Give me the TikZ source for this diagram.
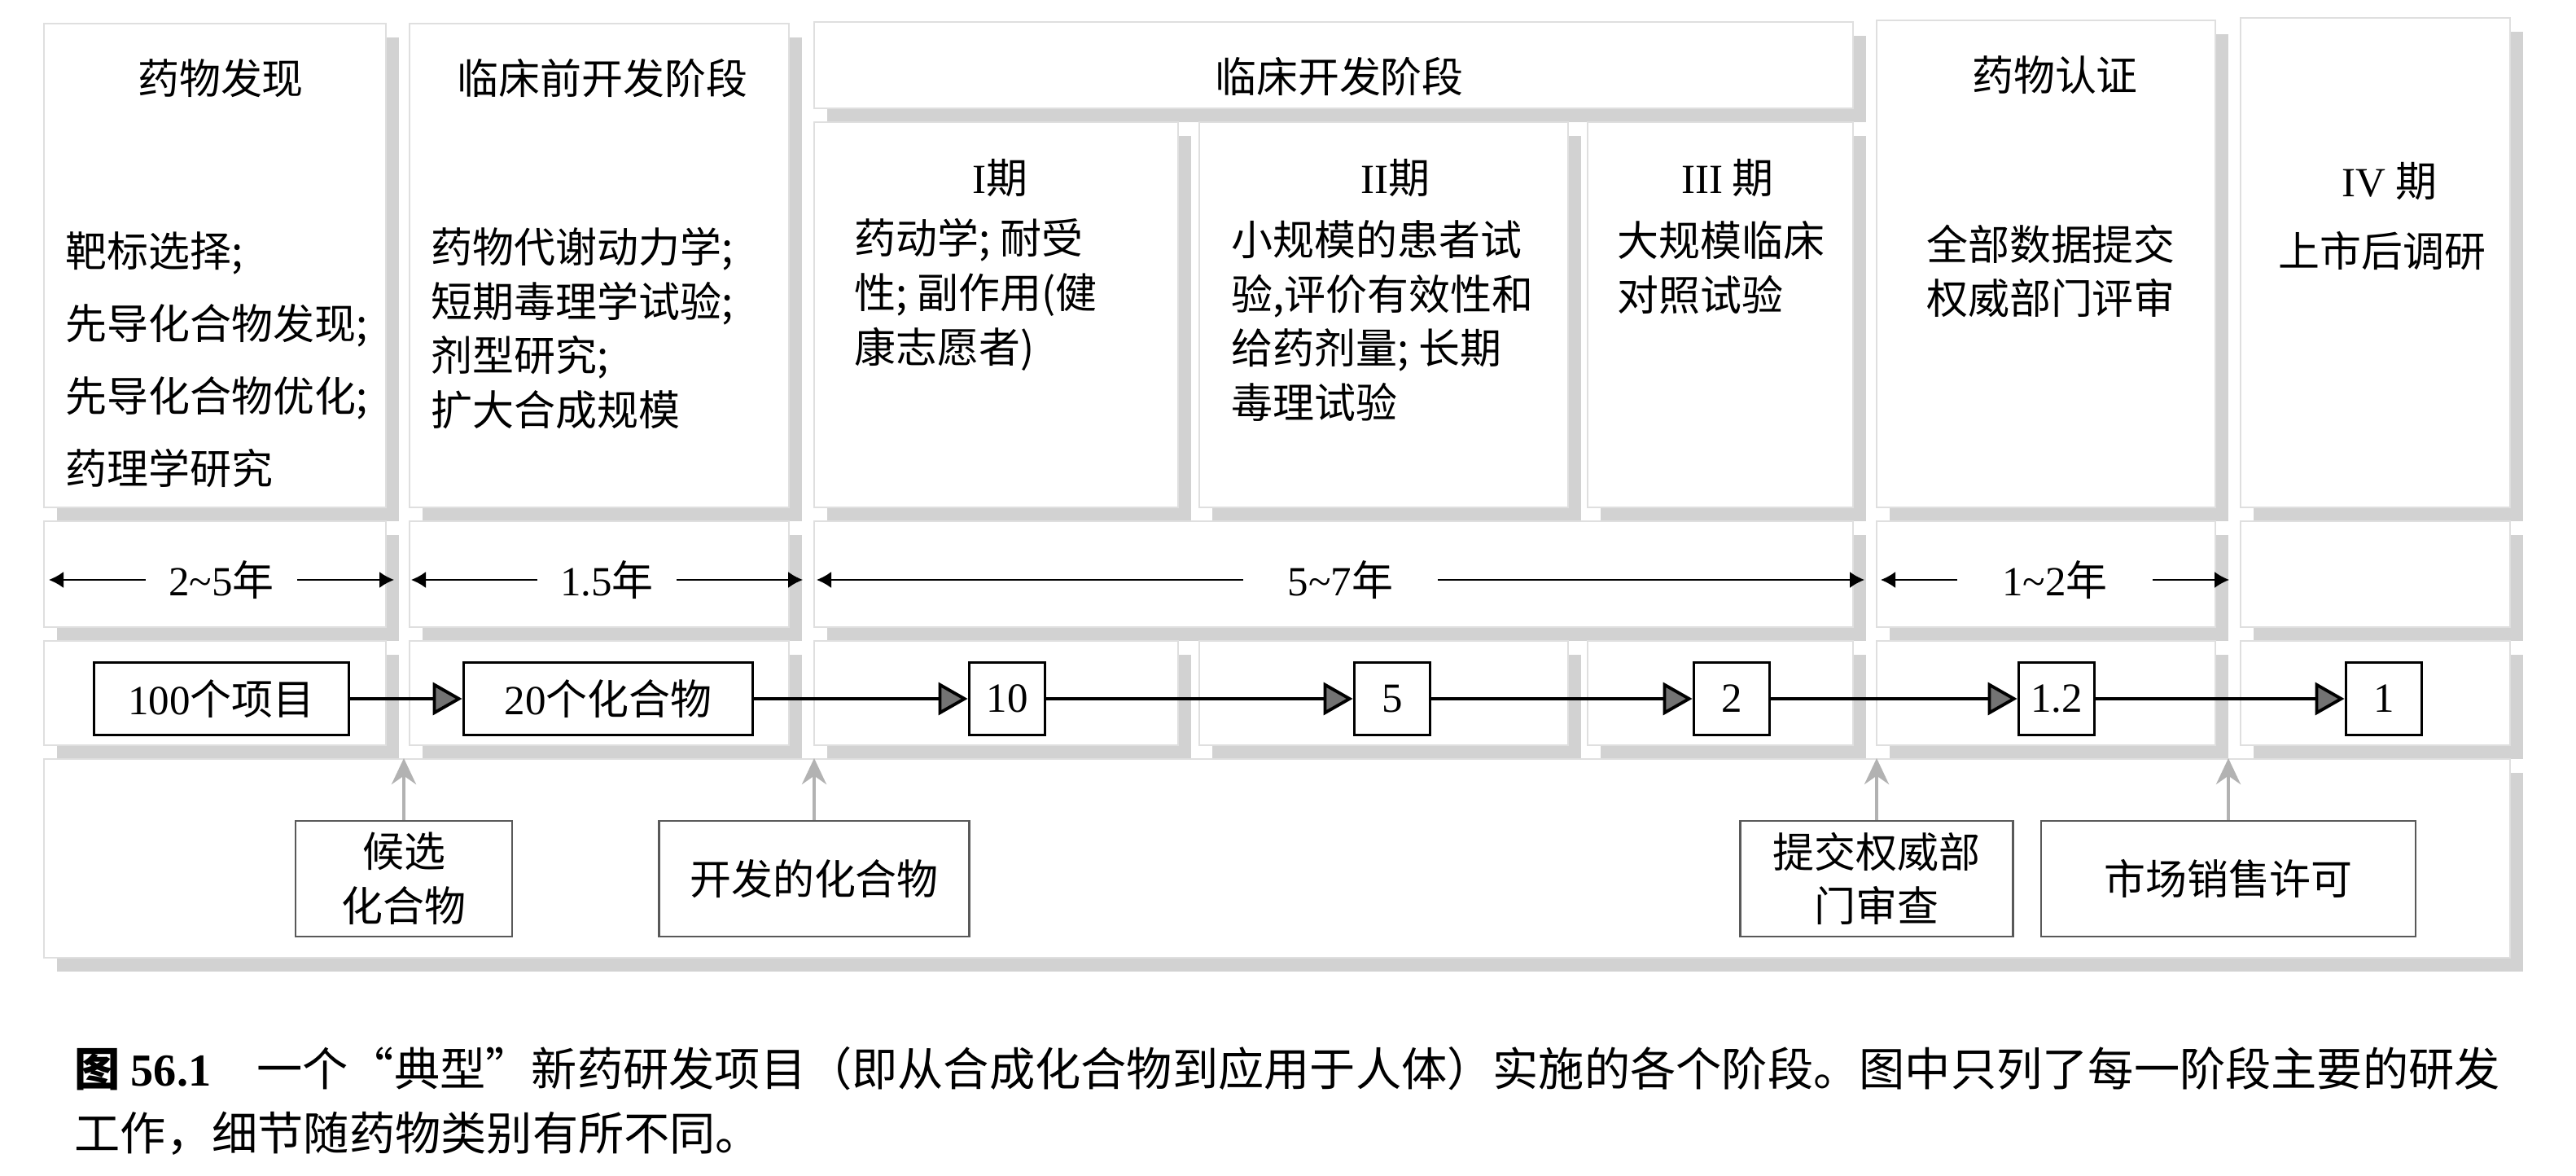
\documentclass[tikz,border=0pt]{standalone}
\usepackage{fontspec}
\setmainfont{Liberation Serif}
\newfontfamily\cjk{Noto Sans CJK SC}
\usepackage{tikz}
\usetikzlibrary{arrows.meta, shadows, positioning}
\newcommand{\figfont}{\fontsize{14.5}{19}\selectfont}
\newcommand{\zh}[1]{{\cjk #1}}
\newcommand{\lat}[1]{{\rmfamily #1}}
\tikzstyle{tile} = [draw=gray!25, line width=0.4pt, fill=white, general shadow={fill=gray!35, shadow xshift=0.16cm, shadow yshift=-0.17cm}]
\tikzstyle{head} = [font=\figfont\cjk, inner sep=0pt]
\tikzstyle{body} = [font=\figfont\cjk, align=left, anchor=west, inner sep=0pt]
\tikzstyle{numbox} = [rectangle, draw=black, line width=1.1pt, minimum width=0.93cm, minimum height=0.89cm, font=\figfont, fill=white]
\tikzstyle{milestone} = [rectangle, draw=black!65, line width=0.8pt, minimum height=1.42cm, align=center, font=\figfont\cjk, fill=white]
\tikzstyle{span} = [line width=0.5pt, {Latex[length=0.18cm,width=0.2cm]}-{Latex[length=0.18cm,width=0.2cm]}]
\tikzstyle{spanlabel} = [fill=white, inner xsep=0.28cm, font=\figfont]
\tikzstyle{flow} = [line width=1.1pt, -{Triangle[length=0.36cm,width=0.4cm,fill=black!55]}]
\tikzstyle{rise} = [gray!60, line width=1.2pt, -{Stealth[length=0.32cm,width=0.3cm]}]

\begin{document}
\begin{tikzpicture}
            \useasboundingbox (0,0) rectangle (31.64,-14.44);

            % Tiles, top row
            \draw [tile] (0.54,-0.29) rectangle (4.74,-6.23);
            \draw [tile] (5.03,-0.29) rectangle (9.69,-6.23);
            \draw [tile] (10.00,-0.27) rectangle (22.76,-1.33);
            \draw [tile] (10.00,-1.50) rectangle (14.47,-6.23);
            \draw [tile] (14.73,-1.50) rectangle (19.26,-6.23);
            \draw [tile] (19.50,-1.50) rectangle (22.76,-6.23);
            \draw [tile] (23.05,-0.25) rectangle (27.21,-6.23);
            \draw [tile] (27.52,-0.22) rectangle (30.83,-6.23);
            % Tiles, years row
            \draw [tile] (0.54,-6.40) rectangle (4.74,-7.70);
            \draw [tile] (5.03,-6.40) rectangle (9.69,-7.70);
            \draw [tile] (10.00,-6.40) rectangle (22.76,-7.70);
            \draw [tile] (23.05,-6.40) rectangle (27.21,-7.70);
            \draw [tile] (27.52,-6.40) rectangle (30.83,-7.70);
            % Tiles, counts row
            \draw [tile] (0.54,-7.87) rectangle (4.74,-9.15);
            \draw [tile] (5.03,-7.87) rectangle (9.69,-9.15);
            \draw [tile] (10.00,-7.87) rectangle (14.47,-9.15);
            \draw [tile] (14.73,-7.87) rectangle (19.26,-9.15);
            \draw [tile] (19.50,-7.87) rectangle (22.76,-9.15);
            \draw [tile] (23.05,-7.87) rectangle (27.21,-9.15);
            \draw [tile] (27.52,-7.87) rectangle (30.83,-9.15);
            % Tile, milestones row
            \draw [tile] (0.54,-9.32) rectangle (30.83,-11.76);

            % Stage headings and work
            \node (discover) [head] at (2.71,-0.96) {药物发现};
            \node (preclin) [head] at (7.40,-0.96) {临床前开发阶段};
            \node (clinic) [head] at (16.45,-0.94) {临床开发阶段};
            \node (approve) [head] at (25.24,-0.92) {药物认证};
            \node (p1) [head] at (12.28,-2.19) {\lat{I}期};
            \node (p2) [head] at (17.14,-2.19) {\lat{II}期};
            \node (p3) [head] at (21.22,-2.19) {\lat{III} 期};
            \node (p4) [head] at (29.35,-2.23) {\lat{IV} 期};
            \node (discoverwork) [body, font=\fontsize{14.5}{25.3}\selectfont\cjk] at (0.80,-4.42) {靶标选择;\\先导化合物发现;\\先导化合物优化;\\药理学研究};
            \node (preclinwork) [body] at (5.29,-4.03) {药物代谢动力学;\\短期毒理学试验;\\剂型研究;\\扩大合成规模};
            \node (p1work) [body] at (10.49,-3.62) {药动学; 耐受\\性; 副作用(健\\康志愿者)};
            \node (p2work) [body] at (15.12,-3.94) {小规模的患者试\\验,评价有效性和\\给药剂量; 长期\\毒理试验};
            \node (p3work) [body] at (19.86,-3.29) {大规模临床\\对照试验};
            \node (approvework) [head, align=center] at (25.19,-3.33) {全部数据提交\\权威部门评审};
            \node (p4work) [head] at (29.26,-3.08) {上市后调研};

            % Durations
            \coordinate (s1a) at (0.60,-7.12);
            \coordinate (s1b) at (4.84,-7.12);
            \coordinate (s2a) at (5.05,-7.12);
            \coordinate (s2b) at (9.86,-7.12);
            \coordinate (s3a) at (10.03,-7.12);
            \coordinate (s3b) at (22.90,-7.12);
            \coordinate (s4a) at (23.10,-7.12);
            \coordinate (s4b) at (27.38,-7.12);
            \draw [span] (s1a) -- node[spanlabel] {2\textasciitilde 5\zh{年}} (s1b);
            \draw [span] (s2a) -- node[spanlabel] {1.5\zh{年}} (s2b);
            \draw [span] (s3a) -- node[spanlabel, inner xsep=0.55cm] {5\textasciitilde 7\zh{年}} (s3b);
            \draw [span] (s4a) -- node[spanlabel, inner xsep=0.55cm] {1\textasciitilde 2\zh{年}} (s4b);

            % Counts
            \node (n100) [numbox, minimum width=3.13cm] at (2.72,-8.58) {100\zh{个项目}};
            \node (n20) [numbox, minimum width=3.55cm, right of=n100, node distance=4.75cm] {20\zh{个化合物}};
            \node (n10) [numbox, right of=n20, node distance=4.90cm] {10};
            \node (n5) [numbox, right of=n10, node distance=4.73cm] {5};
            \node (n2) [numbox, right of=n5, node distance=4.17cm] {2};
            \node (n12) [numbox, right of=n2, node distance=3.99cm] {1.2};
            \node (n1) [numbox, right of=n12, node distance=4.02cm] {1};

            % Milestones
            \node (cand) [milestone, minimum width=2.66cm] at (4.96,-10.79) {候选\\化合物};
            \node (devcomp) [milestone, minimum width=3.81cm] at (10.00,-10.79) {开发的化合物};
            \node (submit) [milestone, minimum width=3.35cm] at (23.05,-10.79) {提交权威部\\门审查};
            \node (market) [milestone, minimum width=4.60cm] at (27.37,-10.79) {市场销售许可};
            \coordinate (g1) at (4.96,-9.31);
            \coordinate (g2) at (10.00,-9.31);
            \coordinate (g3) at (23.05,-9.31);
            \coordinate (g4) at (27.37,-9.31);

            % Draw edges
            \draw [flow] (n100) -- (n20);
            \draw [flow] (n20) -- (n10);
            \draw [flow] (n10) -- (n5);
            \draw [flow] (n5) -- (n2);
            \draw [flow] (n2) -- (n12);
            \draw [flow] (n12) -- (n1);
            \draw [rise] (cand) -- (g1);
            \draw [rise] (devcomp) -- (g2);
            \draw [rise] (submit) -- (g3);
            \draw [rise] (market) -- (g4);

            % Caption
            \node (caption) [anchor=west, inner sep=0pt, font=\fontsize{16}{24}\selectfont\cjk] at (0.91,-13.12) {{\bfseries 图 \lat{56.1}}\quad 一个“典型”新药研发项目（即从合成化合物到应用于人体）实施的各个阶段。图中只列了每一阶段主要的研发};
            \node (caption2) [anchor=west, inner sep=0pt, font=\fontsize{16}{24}\selectfont\cjk] at (0.91,-13.92) {工作，细节随药物类别有所不同。};
\end{tikzpicture}
\end{document}
